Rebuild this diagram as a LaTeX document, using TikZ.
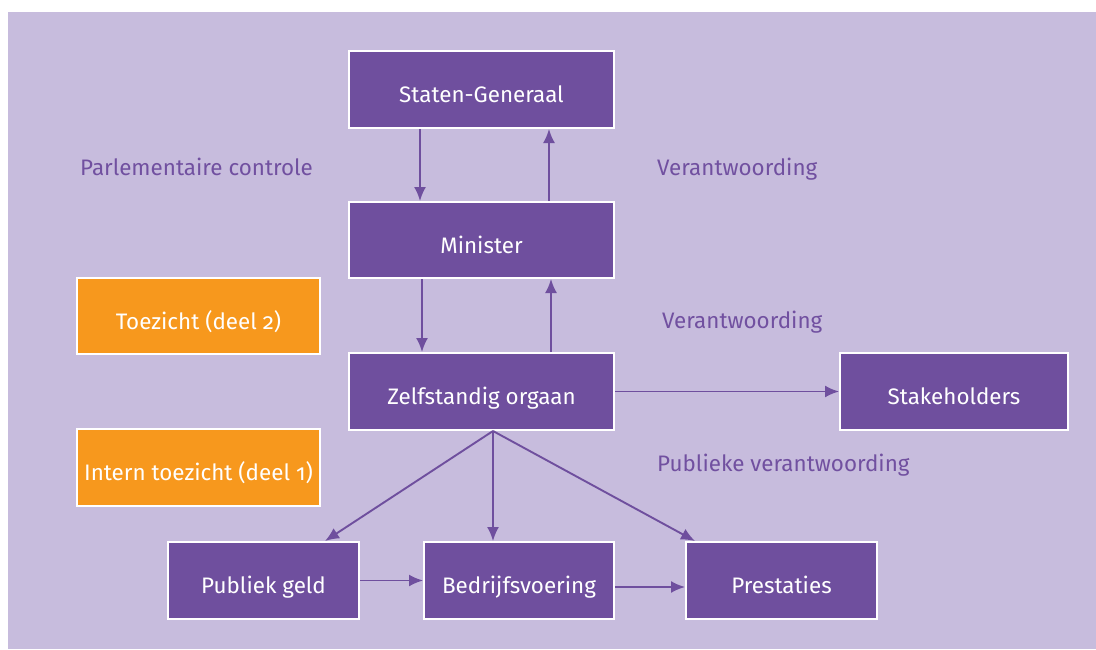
\documentclass[tikz,border=0pt]{standalone}
\usepackage{fontspec}
\setmainfont[Numbers=OldStyle]{Fira Sans}
\usetikzlibrary{arrows.meta}
\definecolor{bg}{HTML}{C7BCDD}
\definecolor{boxp}{HTML}{6F4F9E}
\definecolor{orng}{HTML}{F7981D}
\definecolor{lbl}{HTML}{7150A0}
\begin{document}
\begin{tikzpicture}[x=1pt,y=-1pt,
  box/.style={draw=white, line width=2pt, fill=boxp, text=white,
    font=\fontsize{22.4}{26}\selectfont, text height=26pt, text depth=0pt, inner sep=2pt},
  obox/.style={box, fill=orng},
  arr/.style={draw=boxp, line width=1.9pt, -{Latex[length=14pt,width=12pt]}},
  lab/.style={text=lbl, font=\fontsize{22.4}{26}\selectfont, anchor=base west, inner sep=0pt}]
\useasboundingbox (0,0) rectangle (1096,649);
\fill[white] (0,0) rectangle (1096,649);
\fill[bg] (8,12) rectangle (1096,649);

\node[box, minimum width=265pt, minimum height=77pt] (sg) at (481.5,89.5) {Staten-Generaal};
\node[box, minimum width=265pt, minimum height=76pt] (mi) at (481.5,240) {Minister};
\node[box, minimum width=265pt, minimum height=77pt] (zo) at (481.5,391.5) {Zelfstandig orgaan};
\node[box, minimum width=228pt, minimum height=77pt] (sh) at (954,391.5) {Stakeholders};
\node[obox, minimum width=243pt, minimum height=76pt] (tz) at (198.5,316) {Toezicht (deel 2)};
\node[obox, minimum width=243pt, minimum height=77pt] (it) at (198.5,467.5) {Intern toezicht (deel 1)};
\node[box, minimum width=191pt, minimum height=77pt] (pg) at (263.5,580.5) {Publiek geld};
\node[box, minimum width=190pt, minimum height=77pt] (bv) at (519,580.5) {Bedrijfsvoering};
\node[box, minimum width=191pt, minimum height=77pt] (pr) at (781.5,580.5) {Prestaties};

\node[lab] (l1) at (80,175) {Parlementaire controle};
\node[lab] (l2) at (657,175) {Verantwoording};
\node[lab] (l3) at (662,328) {Verantwoording};
\node[lab] (l4) at (657,471) {Publieke verantwoording};

\coordinate (xa) at (420,0);
\coordinate (xb) at (549,0);
\coordinate (xc) at (422,0);
\coordinate (xd) at (551,0);
\coordinate (xe) at (493,0);
\coordinate (xf) at (325,0);
\coordinate (xg) at (695,0);
\coordinate (yb) at (0,587);

\draw[arr] (xa |- sg.south) -- (xa |- mi.north);
\draw[arr] (xb |- mi.north) -- (xb |- sg.south);
\draw[arr] (xc |- mi.south) -- (xc |- zo.north);
\draw[arr] (xd |- zo.north) -- (xd |- mi.south);
\draw[arr] (zo.east) -- (sh.west);
\draw[arr] (xe |- zo.south) -- (xf |- pg.north);
\draw[arr] (xe |- zo.south) -- (xe |- bv.north);
\draw[arr] (xe |- zo.south) -- (xg |- pr.north);
\draw[arr] (pg.east) -- (bv.west);
\draw[arr] (bv.east |- yb) -- (pr.west |- yb);
\end{tikzpicture}
\end{document}
